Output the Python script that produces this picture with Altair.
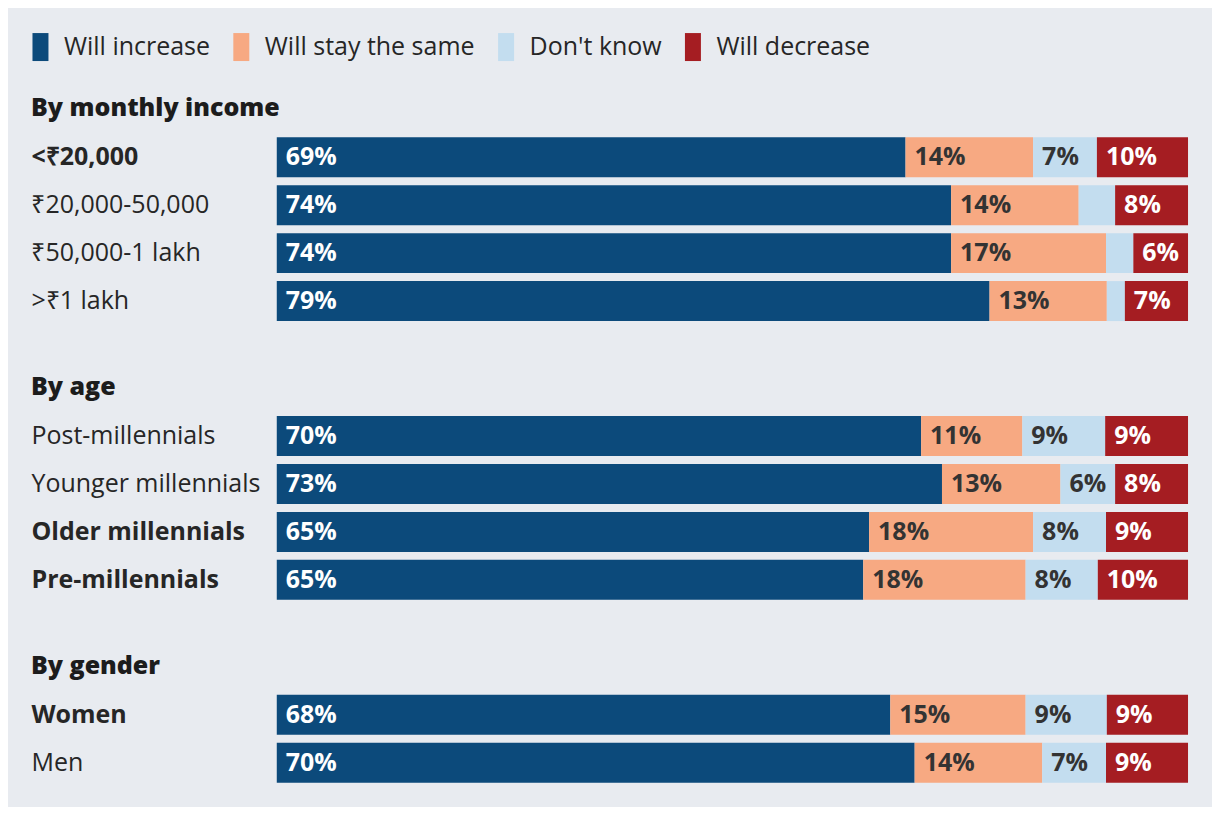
import altair as alt
import pandas as pd

# ---- data ----
groups = ["By monthly income"] * 4 + ["By age"] * 4 + ["By gender"] * 2
rows = ["<₹20,000", "₹20,000-50,000", "₹50,000-1 lakh", ">₹1 lakh",
        "Post-millennials", "Younger millennials", "Older millennials", "Pre-millennials",
        "Women", "Men"]
increase = [69, 74, 74, 79, 70, 73, 65, 65, 68, 70]
same = [14, 14, 17, 13, 11, 13, 18, 18, 15, 14]
dont_know = [7, 4, 3, 2, 9, 6, 8, 8, 9, 7]
decrease = [10, 8, 6, 7, 9, 8, 9, 10, 9, 9]
categories = ["Will increase", "Will stay the same", "Don't know", "Will decrease"]
colors = ["#0c4a7b", "#f7a982", "#c3ddef", "#a51d22"]
bold_rows = ["<₹20,000", "Older millennials", "Pre-millennials", "Women"]

recs = []
for i, r in enumerate(rows):
    for k, (cat, vals) in enumerate(zip(categories, [increase, same, dont_know, decrease])):
        recs.append({"group": groups[i], "row": r, "cat": cat, "order": k, "value": vals[i]})
df = pd.DataFrame(recs)

FONT = "Open Sans"
FS = 25
TEXT = "#262626"
bold_test = "indexof([" + ",".join("'" + b + "'" for b in bold_rows) + "], datum.value) >= 0"


def panel(group):
    sub_rows = [r for r, g in zip(rows, groups) if g == group]
    base = alt.Chart(df).transform_filter(
        alt.datum.group == group
    ).transform_joinaggregate(
        total="sum(value)", groupby=["row"]
    ).transform_window(
        cum="sum(value)", groupby=["row"], sort=[alt.SortField("order")], frame=[None, 0]
    ).transform_calculate(
        start="(datum.cum - datum.value) / datum.total",
        end="datum.cum / datum.total",
        label="datum.value + '%'",
    )
    y = alt.Y("row:N", sort=sub_rows, title=None,
              scale=alt.Scale(paddingInner=8 / 48, paddingOuter=4 / 48),
              axis=alt.Axis(domain=False, ticks=False, grid=False, labelAlign="left",
                            labelPadding=246, labelFontSize=FS, labelFont=FONT,
                            labelColor=TEXT, labelLimit=400,
                            labelFontWeight={"condition": {"test": bold_test, "value": "bold"},
                                             "value": "normal"}))
    bars = base.mark_bar().encode(
        x=alt.X("start:Q", scale=alt.Scale(domain=[0, 1]), axis=None),
        x2="end:Q",
        y=y,
        color=alt.Color("cat:N", scale=alt.Scale(domain=categories, range=colors),
                        legend=alt.Legend(title=None)),
    )
    texts = base.transform_filter("datum.value >= 5").mark_text(
        align="left", dx=9, font=FONT, fontSize=FS, fontWeight="bold"
    ).encode(
        x=alt.X("start:Q", scale=alt.Scale(domain=[0, 1]), axis=None),
        y=y,
        text="label:N",
        color=alt.condition(
            "datum.cat == 'Will increase' || datum.cat == 'Will decrease'",
            alt.value("white"), alt.value("#333333")),
    )
    return alt.layer(bars, texts).properties(
        width=912, height=48 * len(sub_rows),
        title=alt.TitleParams(text=group, anchor="start", frame="bounds", fontSize=FS,
                              font=FONT, fontWeight=800, color="#1c1c1c", offset=12),
    )


chart = alt.vconcat(
    panel("By monthly income"), panel("By age"), panel("By gender"), spacing=50
).properties(
    background="#e8ebf0",
    padding={"left": 20, "top": 26, "right": 24, "bottom": 20},
).configure_view(strokeWidth=0).configure_legend(
    orient="none", legendX=-249, legendY=-99, direction="horizontal",
    symbolType="M-1,-1.75H1V1.75H-1Z",
    symbolSize=256, symbolStrokeWidth=0, symbolOpacity=1, labelFontSize=FS, labelFont=FONT,
    labelColor=TEXT, labelOffset=11, columnPadding=18, labelLimit=400, padding=0,
)

chart.save("out.html", embed_options={"renderer": "svg", "actions": False})
